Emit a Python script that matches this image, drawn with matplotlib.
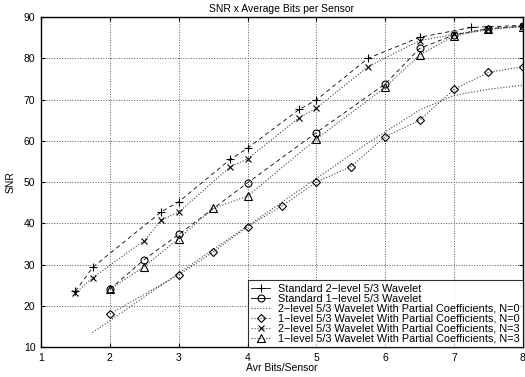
import matplotlib
matplotlib.use("Agg")
import matplotlib.pyplot as plt

plt.rcParams['font.family'] = ['Liberation Sans', 'DejaVu Sans']

# Standard 2-level 5/3 wavelet
x_std2 = [1.5, 1.75, 2.75, 3, 3.75, 4, 4.75, 5, 5.75, 6.5, 7.25, 8]
y_std2 = [23.5, 29.3, 42.8, 45.2, 55.5, 58.2, 67.6, 69.9, 80.0, 85.1, 87.5, 88.0]

# Standard 1-level 5/3 wavelet
x_std1 = [2, 2.5, 3, 4, 5, 6, 6.5, 7, 7.5, 8]
y_std1 = [24, 31.2, 37.3, 49.8, 62.0, 73.8, 82.4, 85.7, 87.2, 87.8]

# 2-level partial coefficients, N=0
x_p2n0 = [1.75, 2.75, 3.75, 4.75, 5.75, 6.5, 7, 7.5, 8]
y_p2n0 = [13.5, 25.0, 36.5, 48.0, 59.5, 67.5, 71.0, 72.5, 73.5]

# 1-level partial coefficients, N=0
x_p1n0 = [2, 3, 3.5, 4, 4.5, 5, 5.5, 6, 6.5, 7, 7.5, 8]
y_p1n0 = [18.0, 27.5, 33.0, 39.2, 44.2, 50.0, 53.7, 61.0, 65.0, 72.5, 76.6, 78.0]

# 2-level partial coefficients, N=3
x_p2n3 = [1.5, 1.75, 2.5, 2.75, 3, 3.75, 4, 4.75, 5, 5.75, 6.5, 7, 7.5, 8]
y_p2n3 = [23.0, 26.8, 35.8, 40.8, 42.7, 53.7, 55.6, 65.6, 67.9, 78.0, 84.3, 85.8, 87.2, 87.8]

# 1-level partial coefficients, N=3
x_p1n3 = [2, 2.5, 3, 3.5, 4, 5, 6, 6.5, 7, 7.5, 8]
y_p1n3 = [24.0, 29.5, 36.3, 43.6, 46.6, 60.4, 73.0, 80.8, 85.5, 87.0, 87.7]

labels = ["Standard 2\u2212level 5/3 Wavelet",
          "Standard 1\u2212level 5/3 Wavelet",
          "2\u2212level 5/3 Wavelet With Partial Coefficients, N=0",
          "1\u2212level 5/3 Wavelet With Partial Coefficients, N=0",
          "2\u2212level 5/3 Wavelet With Partial Coefficients, N=3",
          "1\u2212level 5/3 Wavelet With Partial Coefficients, N=3"]

fig = plt.figure(figsize=(5.25, 3.77), dpi=100)
ax = fig.add_axes([0.078, 0.0796, 0.918, 0.875])

dash = dict(color='k', lw=0.6, dashes=(5, 4))
dot = dict(color='0.25', lw=0.8, linestyle=':')
mk = dict(markerfacecolor='none', markeredgecolor='k', markeredgewidth=0.8)

ax.plot(x_std2, y_std2, marker='+', markersize=6, label=labels[0], **dash, **mk)
ax.plot(x_std1, y_std1, marker='o', markersize=5, label=labels[1], **dash, **mk)
ax.plot(x_p2n0, y_p2n0, label=labels[2], **dot)
ax.plot(x_p1n0, y_p1n0, marker='D', markersize=4, label=labels[3], **dot, **mk)
ax.plot(x_p2n3, y_p2n3, marker='x', markersize=4, label=labels[4], **dot, **mk)
ax.plot(x_p1n3, y_p1n3, marker='^', markersize=5.5, label=labels[5], **dot, **mk)

ax.set_xlim(1, 8)
ax.set_ylim(10, 90)
ax.set_xticks(range(1, 9))
ax.set_yticks(range(10, 91, 10))
ax.grid(True, color='0.35', linestyle=':', lw=0.7)
ax.tick_params(direction='in', top=True, right=True, labelsize=7.5, length=3, pad=4)
for s in ax.spines.values():
    s.set_linewidth(1.0)

ax.set_title("SNR x Average Bits per Sensor", fontsize=7.5, pad=4)
ax.set_xlabel("Avr Bits/Sensor", fontsize=7.5, labelpad=0)
ax.set_ylabel("SNR", fontsize=7.5, labelpad=6)

leg = ax.legend(loc='lower right', fontsize=7.8, frameon=True, fancybox=False,
                edgecolor='k', handlelength=1.8, handletextpad=0.7,
                borderpad=0.3, labelspacing=0.0, borderaxespad=0)
leg.get_frame().set_linewidth(0.8)
for h in leg.get_lines():
    h.set_linestyle('-' if h.get_linestyle() == '--' else h.get_linestyle())

fig.savefig("out.png", dpi=100)
